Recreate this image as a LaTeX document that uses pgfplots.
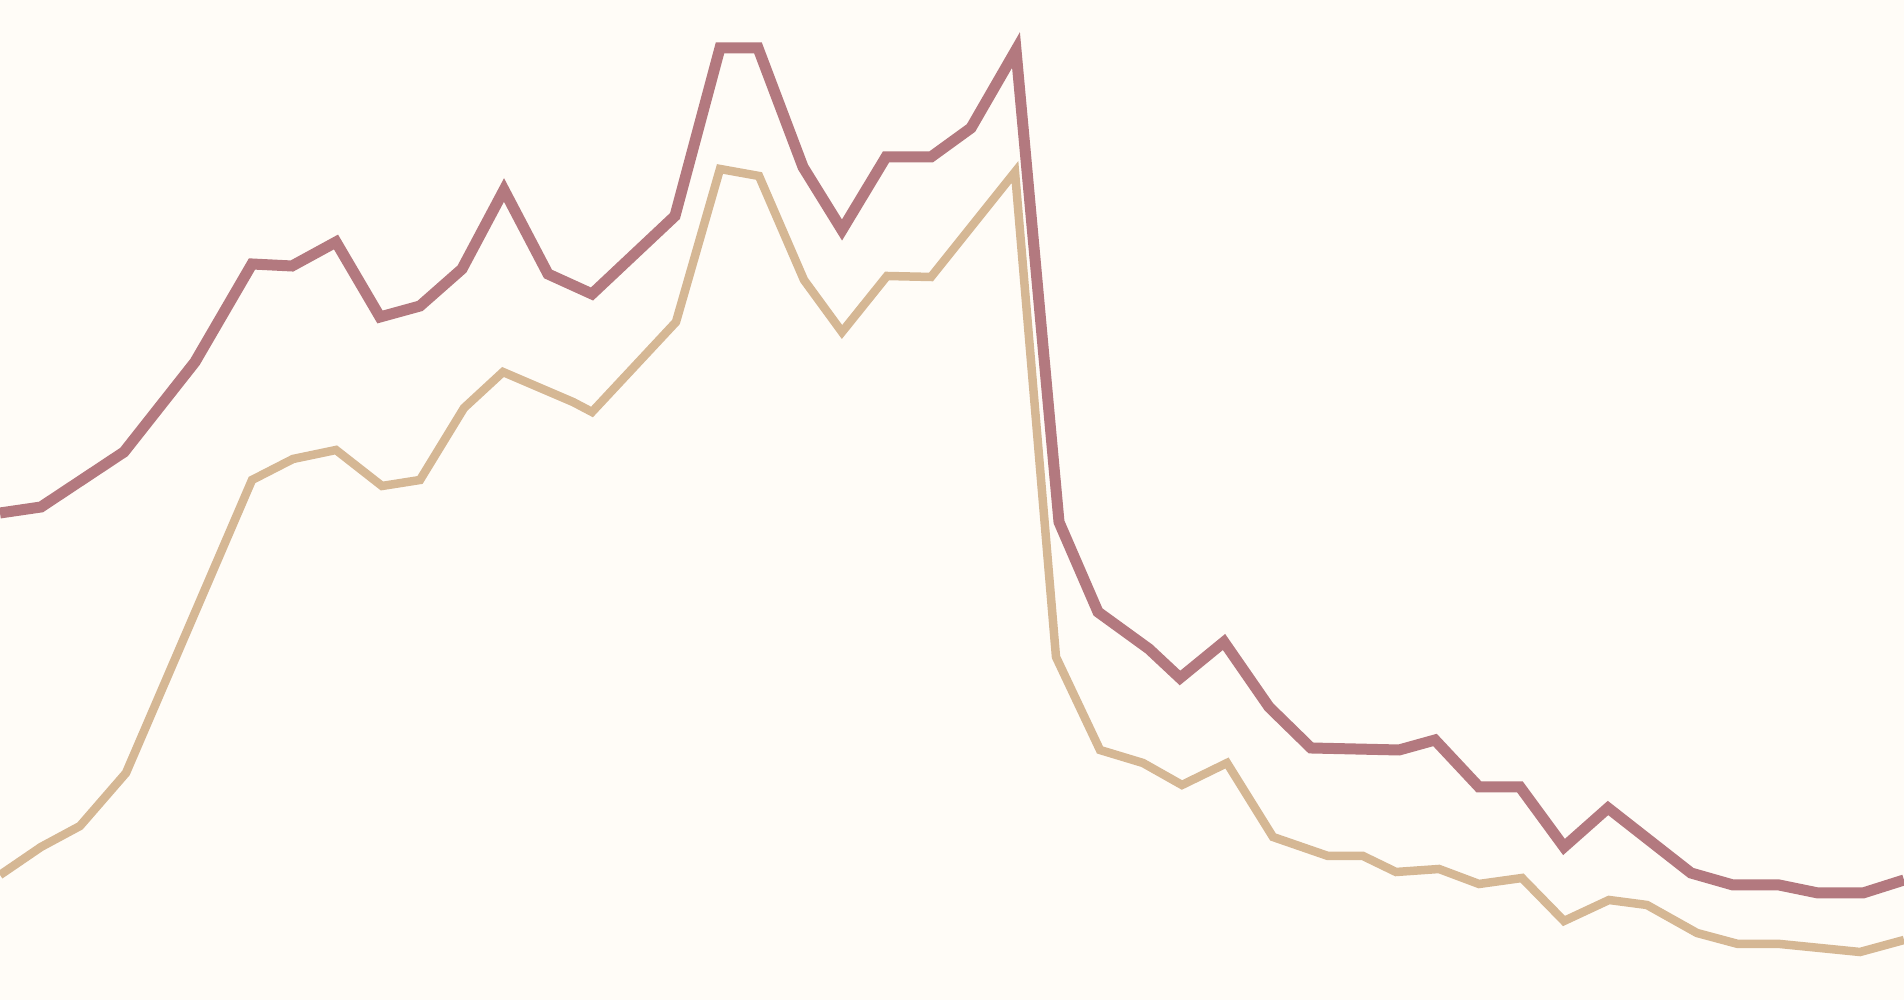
\documentclass[border=0pt]{standalone}
\usepackage{pgfplots}
\pgfplotsset{compat=1.18}

\definecolor{bgcream}{HTML}{FFFCF7}
\definecolor{mauve}{HTML}{B3797F}
\definecolor{sand}{HTML}{D5B794}

\begin{document}
\begin{tikzpicture}
\begin{axis}[
    width=19.04cm,
    height=10cm,
    scale only axis,
    hide axis,
    xmin=0, xmax=1904,
    ymin=0, ymax=1000,
    y dir=reverse,
    clip=true,
    clip bounding box=upper bound,
    axis background/.style={fill=bgcream},
]
% upper series
\addplot[mauve, line width=1.1mm, line join=miter] coordinates {
    (0,513) (41,507) (124,452) (195,362) (252,264) (292,266) (336,242)
    (380,317) (420,306) (462,269) (504,190) (548,274) (592,294) (675,216)
    (720,48) (758,48) (803,167) (842,230) (886,157) (931,157) (971,128)
    (1016,50) (1059,522) (1098,612) (1149,649) (1180,678) (1224,642)
    (1269,707) (1311,748) (1399,750) (1435,740) (1479,787) (1520,787)
    (1564,847) (1608,808) (1691,873) (1733,885) (1779,885) (1818,893)
    (1863,893) (1904,880)
};
% lower series
\addplot[sand, line width=0.85mm, line join=miter] coordinates {
    (0,875) (41,847) (80,826) (126,773) (252,480) (293,459) (336,450)
    (382,486) (420,480) (464,408) (503,372) (573,402) (592,412) (676,322)
    (720,169) (759,176) (804,280) (842,332) (887,276) (931,277) (1015,172)
    (1056,657) (1100,750) (1143,763) (1182,785) (1227,763) (1273,837)
    (1328,856) (1363,856) (1396,872) (1439,869) (1479,884) (1522,878)
    (1564,921) (1609,900) (1647,905) (1697,933) (1738,944) (1780,944)
    (1860,952) (1904,940)
};
\end{axis}
\end{tikzpicture}
\end{document}
